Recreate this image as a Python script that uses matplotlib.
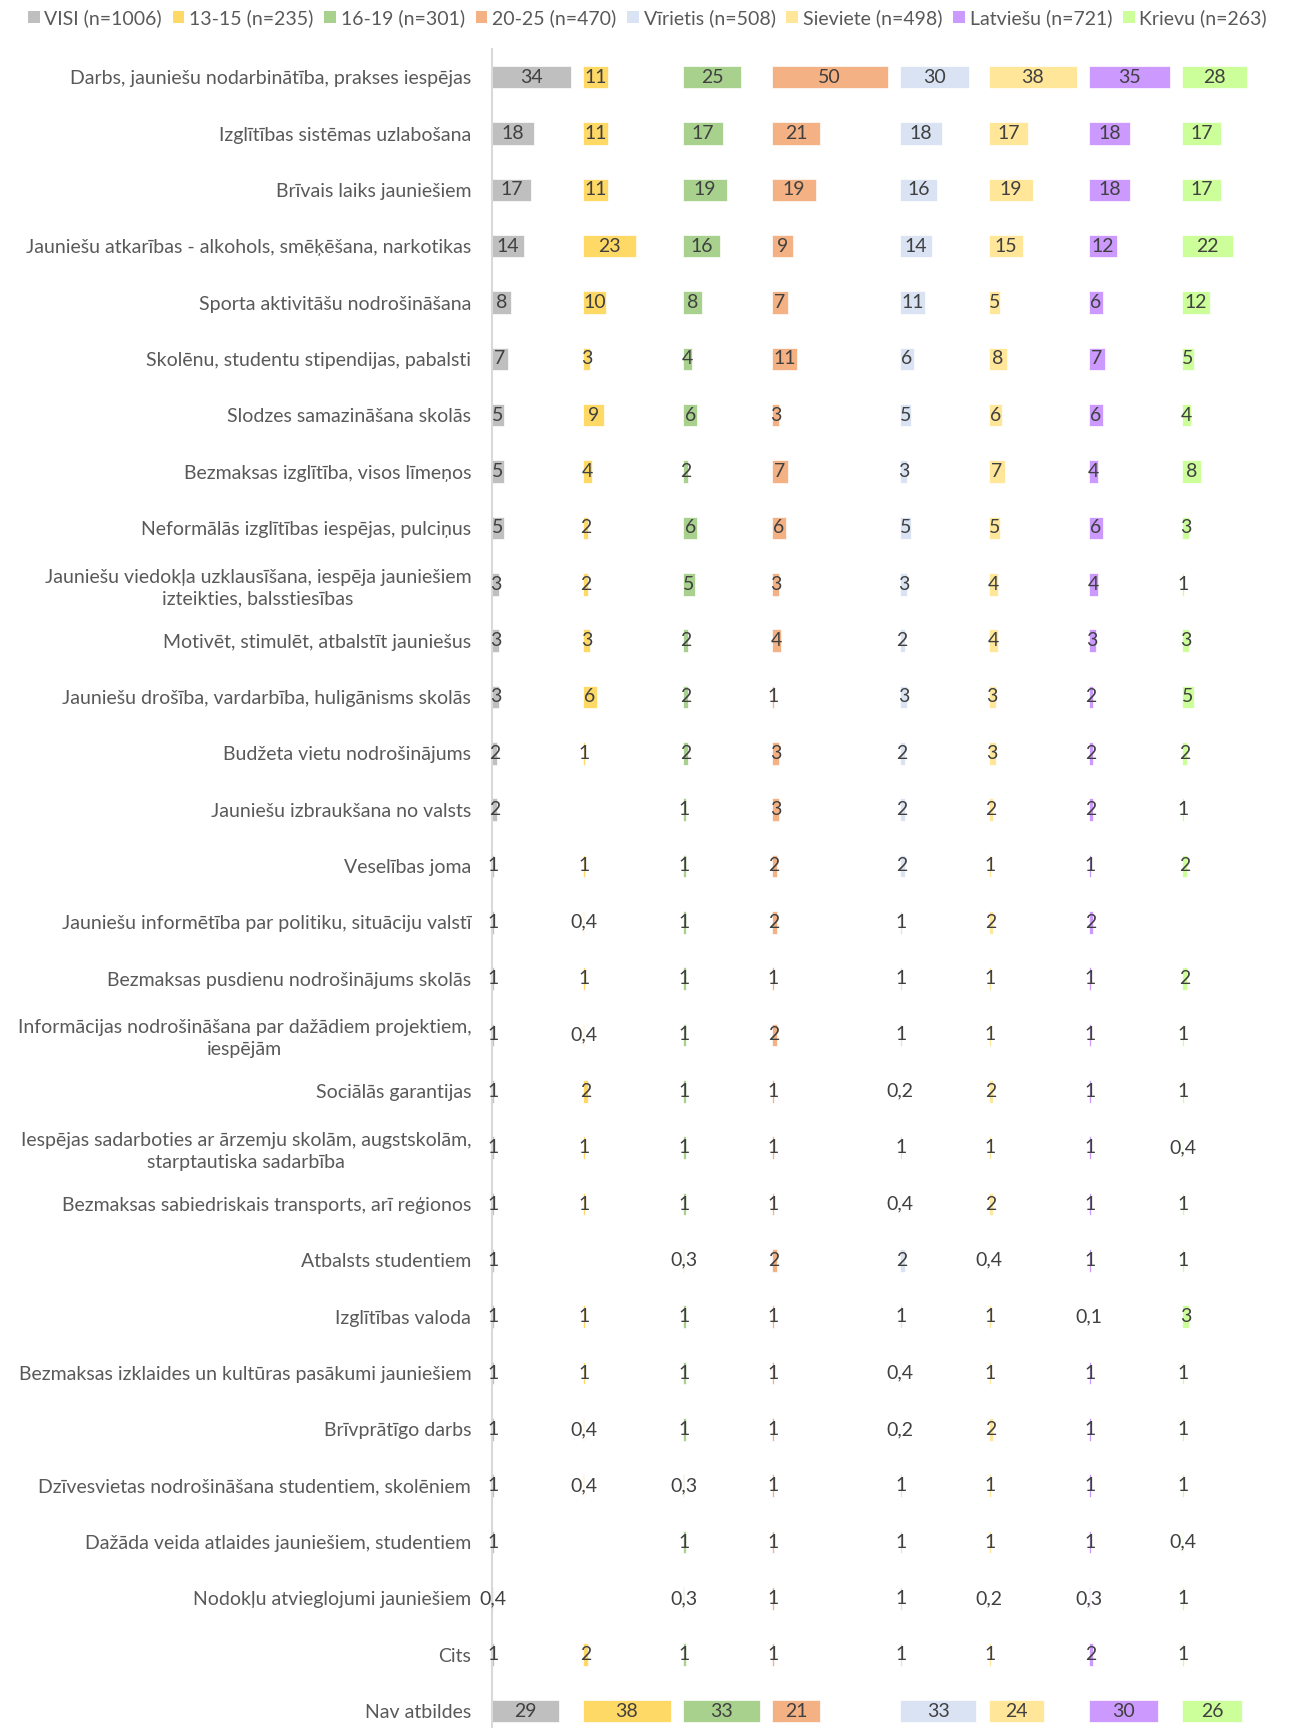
import numpy as np
import matplotlib
matplotlib.use("Agg")
import matplotlib.pyplot as plt
from matplotlib.patches import Patch

plt.rcParams['font.family'] = ['Lato', 'DejaVu Sans']

categories = [
    "Darbs, jauniešu nodarbinātība, prakses iespējas",
    "Izglītības sistēmas uzlabošana",
    "Brīvais laiks jauniešiem",
    "Jauniešu atkarības - alkohols, smēķēšana, narkotikas",
    "Sporta aktivitāšu nodrošināšana",
    "Skolēnu, studentu stipendijas, pabalsti",
    "Slodzes samazināšana skolās",
    "Bezmaksas izglītība, visos līmeņos",
    "Neformālās izglītības iespējas, pulciņus",
    "Jauniešu viedokļa uzklausīšana, iespēja jauniešiem\nizteikties, balsstiesības",
    "Motivēt, stimulēt, atbalstīt jauniešus",
    "Jauniešu drošība, vardarbība, huligānisms skolās",
    "Budžeta vietu nodrošinājums",
    "Jauniešu izbraukšana no valsts",
    "Veselības joma",
    "Jauniešu informētība par politiku, situāciju valstī",
    "Bezmaksas pusdienu nodrošinājums skolās",
    "Informācijas nodrošināšana par dažādiem projektiem,\niespējām",
    "Sociālās garantijas",
    "Iespējas sadarboties ar ārzemju skolām, augstskolām,\nstarptautiska sadarbība",
    "Bezmaksas sabiedriskais transports, arī reģionos",
    "Atbalsts studentiem",
    "Izglītības valoda",
    "Bezmaksas izklaides un kultūras pasākumi jauniešiem",
    "Brīvprātīgo darbs",
    "Dzīvesvietas nodrošināšana studentiem, skolēniem",
    "Dažāda veida atlaides jauniešiem, studentiem",
    "Nodokļu atvieglojumi jauniešiem",
    "Cits",
    "Nav atbildes",
]

groups = ["VISI (n=1006)", "13-15 (n=235)", "16-19 (n=301)", "20-25 (n=470)",
          "Vīrietis (n=508)", "Sieviete (n=498)", "Latviešu (n=721)", "Krievu (n=263)"]
colors = ["#BFBFBF", "#FFD966", "#A9D18E", "#F4B183",
          "#DAE3F3", "#FFE699", "#CC99FF", "#CCFF99"]

N = np.nan
visi =     [34, 18, 17, 14, 8, 7, 5, 5, 5, 3, 3, 3, 2, 2, 1, 1, 1, 1, 1, 1, 1, 1, 1, 1, 1, 1, 1, 0.4, 1, 29]
age13_15 = [11, 11, 11, 23, 10, 3, 9, 4, 2, 2, 3, 6, 1, N, 1, 0.4, 1, 0.4, 2, 1, 1, N, 1, 1, 0.4, 0.4, N, N, 2, 38]
age16_19 = [25, 17, 19, 16, 8, 4, 6, 2, 6, 5, 2, 2, 2, 1, 1, 1, 1, 1, 1, 1, 1, 0.3, 1, 1, 1, 0.3, 1, 0.3, 1, 33]
age20_25 = [50, 21, 19, 9, 7, 11, 3, 7, 6, 3, 4, 1, 3, 3, 2, 2, 1, 2, 1, 1, 1, 2, 1, 1, 1, 1, 1, 1, 1, 21]
virietis = [30, 18, 16, 14, 11, 6, 5, 3, 5, 3, 2, 3, 2, 2, 2, 1, 1, 1, 0.2, 1, 0.4, 2, 1, 0.4, 0.2, 1, 1, 1, 1, 33]
sieviete = [38, 17, 19, 15, 5, 8, 6, 7, 5, 4, 4, 3, 3, 2, 1, 2, 1, 1, 2, 1, 2, 0.4, 1, 1, 2, 1, 1, 0.2, 1, 24]
latviesu = [35, 18, 18, 12, 6, 7, 6, 4, 6, 4, 3, 2, 2, 2, 1, 2, 1, 1, 1, 1, 1, 1, 0.1, 1, 1, 1, 1, 0.3, 2, 30]
krievu =   [28, 17, 17, 22, 12, 5, 4, 8, 3, 1, 3, 5, 2, 1, 2, N, 2, 1, 1, 0.4, 1, 1, 3, 1, 1, 1, 0.4, 1, 1, 26]

series = [visi, age13_15, age16_19, age20_25, virietis, sieviete, latviesu, krievu]


def fmt(v):
    if v < 1:
        return ("%.1f" % v).replace(".", ",")
    return "%d" % round(v)


fig = plt.figure(figsize=(12.95, 17.28), dpi=100)
ax = fig.add_axes([492 / 1295, 0, 1 - 492 / 1295, 1 - 49 / 1728])

y = np.arange(len(categories))
gap = 5.3
start = 0.0
for vals, col in zip(series, colors):
    vals = np.array(vals, dtype=float)
    ok = ~np.isnan(vals)
    ax.barh(y[ok], vals[ok], left=start, height=0.4, color=col, edgecolor="white", linewidth=0.5)
    for yi, v in zip(y[ok], vals[ok]):
        ax.text(start + v / 2, yi, fmt(v), ha="center", va="center",
                fontsize=14, color="#404040")
    start += np.nanmax(vals) + gap

ax.set_xlim(0, (1295 - 492) / 2.315)
ax.set_ylim(29.3, -0.5)
ax.set_yticks(y)
ax.set_yticklabels(categories, fontsize=14, color="#595959",
                   multialignment="center", linespacing=1.35)
ax.tick_params(axis="y", length=0, pad=15)
ax.tick_params(axis="x", length=0, labelbottom=False)
for s in ["top", "right", "bottom"]:
    ax.spines[s].set_visible(False)
ax.spines["left"].set_color("#D9D9D9")
ax.spines["left"].set_linewidth(1.5)

handles = [Patch(facecolor=c, edgecolor="none") for c in colors]
fig.legend(handles, groups, loc="center", bbox_to_anchor=(0.5, 1 - 18 / 1728), ncol=8,
           frameon=False, fontsize=14, labelcolor="#595959",
           handlelength=0.6, handleheight=0.6, handletextpad=0.25, columnspacing=0.55)

fig.savefig("out.png", dpi=100)
